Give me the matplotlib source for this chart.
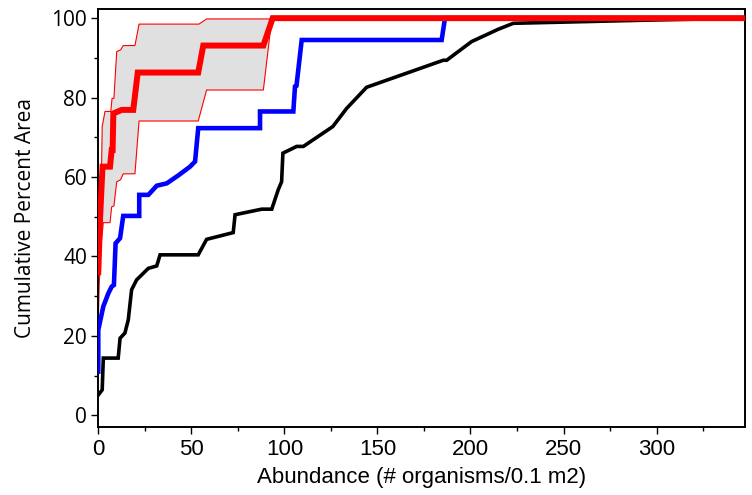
import matplotlib
matplotlib.use("Agg")
import matplotlib.pyplot as plt
from matplotlib.ticker import MultipleLocator

# ---- data ----
black_x = [0, 2.1, 2.7, 10.7, 11.7, 14.3, 16.1, 17.9, 20.6, 26.9, 31.4, 33.2, 53.7, 58.2,
           72.5, 73.5, 87.8, 93.2, 96.7, 98.5, 99.2, 106.6, 110.2, 126.0, 133.5, 144.2,
           185.4, 187.2, 200.6, 214.9, 223.0, 295.0, 348.0]
black_y = [5.1, 6.4, 14.4, 14.4, 19.4, 20.7, 24.0, 31.6, 34.1, 37.0, 37.6, 40.4, 40.4, 44.3,
           46.0, 50.5, 51.9, 51.9, 56.8, 58.8, 66.0, 67.7, 67.7, 72.7, 77.3, 82.6,
           89.4, 89.4, 94.1, 97.2, 98.7, 99.5, 100.0]

blue_x = [0, 0, 2.7, 5.4, 7.2, 8.4, 9.3, 11.7, 13.4, 22.0, 22.0, 26.9, 31.4, 36.8, 43.0,
          49.3, 52.0, 53.7, 86.9, 86.9, 104.8, 105.7, 106.5, 109.3, 184.5, 186.3, 348.0]
blue_y = [11.0, 21.5, 27.4, 30.7, 32.4, 32.8, 43.3, 44.6, 50.2, 50.2, 55.5, 55.5, 57.8, 58.4,
          60.4, 62.6, 63.9, 72.3, 72.3, 76.5, 76.5, 82.8, 83.0, 94.5, 94.5, 100.0, 100.0]

red_x = [0, 1.0, 2.0, 2.3, 6.3, 7.2, 7.7, 8.1, 12.6, 18.8, 21.2, 53.7, 56.4, 88.7, 93.7, 348.0]
red_y = [36.0, 50.0, 60.0, 62.6, 62.6, 66.8, 66.8, 76.0, 76.9, 76.9, 86.3, 86.3, 93.1, 93.1,
         100.0, 100.0]

upper_x = [0, 1.5, 2.1, 3.6, 6.7, 7.4, 8.4, 9.9, 12.0, 13.4, 19.7, 21.9, 54.1, 58.2, 348.0]
upper_y = [50.0, 54.2, 72.7, 76.5, 76.5, 79.8, 79.8, 91.6, 92.0, 93.1, 93.1, 98.5, 98.5,
           99.8, 99.8]

lower_x = [0, 0.5, 1.5, 2.7, 6.3, 7.2, 8.4, 9.9, 12.0, 13.4, 19.7, 21.9, 53.7, 58.2, 88.7,
           93.2, 348.0]
lower_y = [23.0, 33.0, 43.0, 48.5, 48.5, 52.5, 52.7, 58.8, 59.3, 60.8, 60.8, 74.1, 74.1,
           81.9, 81.9, 99.8, 99.8]

x_ticks = [0, 50, 100, 150, 200, 250, 300]
y_ticks = [0, 20, 40, 60, 80, 100]

# ---- figure ----
fig = plt.figure(figsize=(7.52, 4.95), dpi=100)
ax = fig.add_axes([0.1307, 0.1374, 0.8600, 0.8444])

band_x = upper_x + lower_x[::-1]
band_y = upper_y + lower_y[::-1]
ax.fill(band_x, band_y, facecolor="#e0e0e0", edgecolor="none", zorder=1)
ax.plot(upper_x, upper_y, color="#ff0000", lw=0.8, zorder=2)
ax.plot(lower_x, lower_y, color="#ff0000", lw=0.8, zorder=2)

ax.plot(black_x, black_y, color="black", lw=2.6, zorder=3, solid_joinstyle="miter")
ax.plot(blue_x, blue_y, color="#0000ff", lw=3.3, zorder=4, solid_joinstyle="miter")
ax.plot(red_x, red_y, color="#ff0000", lw=4.3, zorder=5, solid_joinstyle="miter")

ax.set_xlim(0, 347.5)
ax.set_ylim(-2.95, 102.3)
ax.set_xticks(x_ticks)
ax.set_yticks(y_ticks)
ax.xaxis.set_minor_locator(MultipleLocator(25))
ax.yaxis.set_minor_locator(MultipleLocator(10))

ax.tick_params(axis="both", which="major", direction="out", length=5, width=1.0, color="black")
ax.tick_params(axis="both", which="minor", direction="out", length=3, width=1.0, color="black")
ax.tick_params(axis="x", which="major", pad=4)
ax.tick_params(axis="y", which="major", pad=3)

for lab in ax.get_xticklabels():
    lab.set_fontfamily("Liberation Sans")
    lab.set_fontsize(16)
for lab in ax.get_yticklabels():
    lab.set_fontfamily("Open Sans")
    lab.set_fontsize(15)

for sp in ax.spines.values():
    sp.set_linewidth(1.4)
    sp.set_color("black")

ax.set_xlabel("Abundance (# organisms/0.1 m2)", fontfamily="Liberation Sans", fontsize=16,
              labelpad=5)
ax.set_ylabel("Cumulative Percent Area", fontfamily="Open Sans", fontsize=15, labelpad=11)

fig.savefig("out.png", dpi=100)
